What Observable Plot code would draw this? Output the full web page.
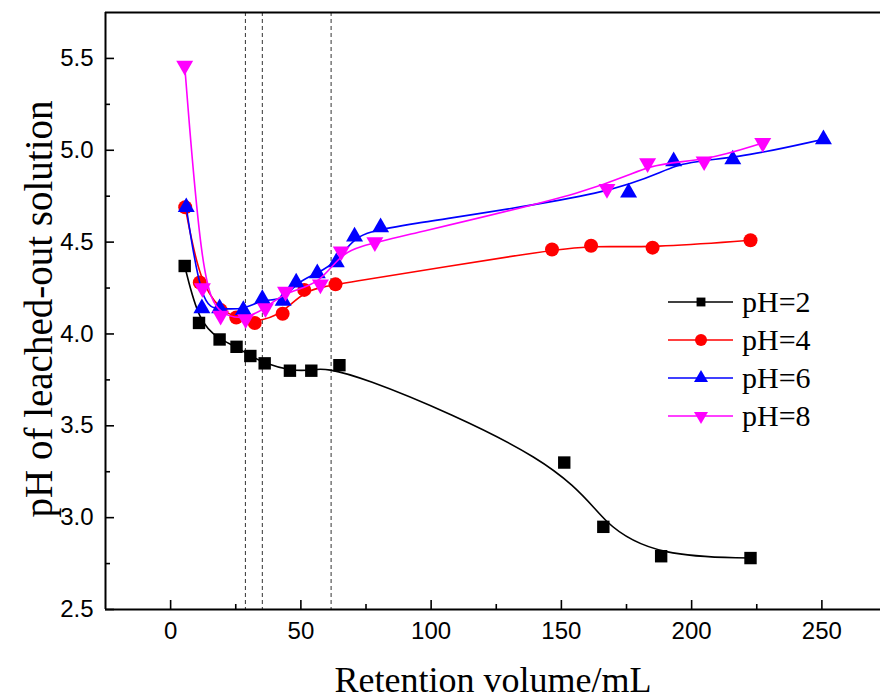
<!DOCTYPE html>
<html><head><meta charset="utf-8">
<script src="https://cdn.jsdelivr.net/npm/d3@7"></script>
<script src="https://cdn.jsdelivr.net/npm/@observablehq/plot@0.6"></script>
<style>
body{margin:0;background:#fff;overflow:hidden}
#wrap{position:relative;width:880px;height:700px}
#legend{position:absolute;left:668px;top:283px;font-family:"Liberation Serif","Times New Roman",serif;font-size:30px;color:#000}
.row{display:flex;align-items:center;height:38px}
.row span{margin-left:8px;line-height:38px}
</style></head><body><div id="wrap"><div id="chart"></div><div id="legend"></div></div>
<script>
// ---- data ----
const seriesNames = ["pH=2", "pH=4", "pH=6", "pH=8"];
const vol2 = [5.4, 10.9, 18.8, 25.3, 30.6, 36.1, 45.8, 54.0, 64.8, 151.1, 166.1, 188.3, 222.6];
const ph2  = [4.37, 4.06, 3.97, 3.93, 3.88, 3.84, 3.80, 3.80, 3.83, 3.30, 2.95, 2.79, 2.78];
const vol4 = [5.6, 11.2, 19.2, 25.2, 32.3, 43.0, 51.3, 63.3, 146.4, 161.4, 185.0, 222.6];
const ph4  = [4.69, 4.28, 4.13, 4.09, 4.06, 4.11, 4.24, 4.27, 4.46, 4.48, 4.47, 4.51];
const vol6 = [6.0, 12.0, 18.8, 27.9, 35.2, 43.2, 48.2, 56.3, 63.6, 70.6, 80.6, 175.8, 193.1, 215.8, 250.6];
const ph6  = [4.69, 4.14, 4.14, 4.13, 4.19, 4.18, 4.28, 4.33, 4.39, 4.53, 4.58, 4.77, 4.94, 4.95, 5.06];
const vol8 = [5.4, 12.2, 19.2, 28.8, 36.4, 44.1, 57.5, 65.5, 78.4, 167.5, 183.1, 204.8, 227.3];
const ph8  = [5.46, 4.25, 4.10, 4.08, 4.14, 4.23, 4.27, 4.45, 4.50, 4.79, 4.93, 4.94, 5.04];
const dashedVolumes = [28.7, 35.2, 61.6];
const xMajorTicks = [0, 50, 100, 150, 200, 250];
const xMinorTicks = [25, 75, 125, 175, 225];
const yMajorTicks = [2.5, 3.0, 3.5, 4.0, 4.5, 5.0, 5.5];
const yMinorTicks = [2.75, 3.25, 3.75, 4.25, 4.75, 5.25];
const xTitle = "Retention volume/mL";
const yTitle = "pH of leached-out solution";

// ---- styles ----
const colors = ["#000000", "#ff0000", "#0000ff", "#ff00ff"];
const symbols = ["square", "circle", "triangle", "triangle"];
const rotations = [0, 0, 0, 180];
const radii = [7, 7, 6.3, 6.3];
const xDomain = [-25, 272.5];
const yDomain = [2.5, 5.75];

const vols = [vol2, vol4, vol6, vol8];
const phs = [ph2, ph4, ph6, ph8];
const tables = vols.map((v, i) => v.map((x, j) => ({vol: x, ph: phs[i][j], series: seriesNames[i]})));

const serif = "'Liberation Serif','Times New Roman',serif";
const marks = [
  Plot.ruleX(dashedVolumes, {stroke: "#333", strokeWidth: 1, strokeDasharray: "4,3"})
];
tables.forEach((t, i) => {
  marks.push(Plot.line(t, {x: "vol", y: "ph", curve: "basis", stroke: colors[i], strokeWidth: 1.6}));
  marks.push(Plot.dot(t, {x: "vol", y: "ph", symbol: symbols[i], r: radii[i], fill: colors[i], stroke: "none", rotate: rotations[i]}));
});
marks.push(
  Plot.ruleX([xDomain[0]], {stroke: "#000", strokeWidth: 2}),
  Plot.ruleY([yDomain[0], yDomain[1]], {stroke: "#000", strokeWidth: 2}),
  Plot.axisX(xMajorTicks, {anchor: "bottom", tickSize: -9, tickPadding: 21, label: null, tickFormat: d => String(d), strokeWidth: 1.6}),
  Plot.axisX(xMinorTicks, {anchor: "bottom", tickSize: -5, tickFormat: () => "", label: null, strokeWidth: 1.6}),
  Plot.axisY(yMajorTicks, {anchor: "left", tickSize: -9, tickPadding: 21, label: null, tickFormat: d3.format(".1f"), strokeWidth: 1.6}),
  Plot.axisY(yMinorTicks, {anchor: "left", tickSize: -5, tickFormat: () => "", label: null, strokeWidth: 1.6}),
  Plot.text([yTitle], {frameAnchor: "left", textAnchor: "middle", dx: -66, dy: -2, rotate: -90, fontSize: 39, fontFamily: serif, fill: "#000"}),
  Plot.text([xTitle], {frameAnchor: "bottom", textAnchor: "middle", dy: 82, fontSize: 36, fontFamily: serif, fill: "#000"})
);

const chart = Plot.plot({
  width: 880, height: 700,
  marginLeft: 105, marginRight: 0, marginTop: 12, marginBottom: 91,
  x: {domain: xDomain},
  y: {domain: yDomain},
  style: {fontFamily: "'Liberation Sans', Arial, sans-serif", fontSize: "24px", color: "#000", background: "#fff"},
  marks
});
document.getElementById("chart").appendChild(chart);

// ---- legend ----
const legend = d3.select("#legend");
const legendR = [5, 6, 5.2, 5.2];
seriesNames.forEach((name, i) => {
  const row = legend.append("div").attr("class", "row");
  const svg = row.append("svg").attr("width", 66).attr("height", 38);
  svg.append("line").attr("x1", 0).attr("x2", 65).attr("y1", 19).attr("y2", 19)
    .attr("stroke", colors[i]).attr("stroke-width", 1.6);
  const sym = {square: d3.symbolSquare, circle: d3.symbolCircle, triangle: d3.symbolTriangle}[symbols[i]];
  svg.append("path").attr("d", d3.symbol(sym, Math.PI * legendR[i] ** 2)())
    .attr("transform", `translate(33,19) rotate(${rotations[i]})`).attr("fill", colors[i]);
  row.append("span").text(name);
});
</script></body></html>
